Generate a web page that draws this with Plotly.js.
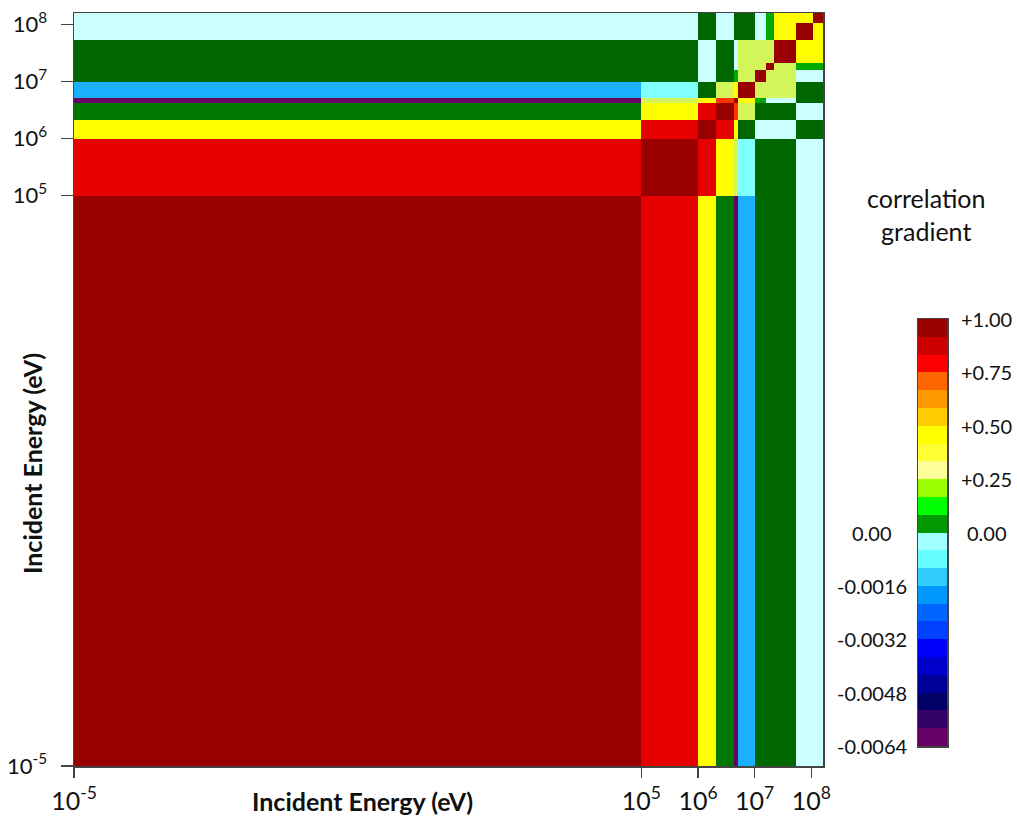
<!DOCTYPE html>
<html><head><meta charset="utf-8">
<script src="https://cdn.plot.ly/plotly-3.0.1.min.js"></script>
<style>html,body{margin:0;padding:0;background:#fff}</style>
</head><body><div id="chart" style="width:1017px;height:818px"></div>
<script>
// Energy group boundaries (eV)
const groupEdges = [1e-5, 1e5, 1e6, 2.1e6, 4.3e6, 5.1e6, 1e7, 1.6e7, 2.15e7, 5.3e7, 1.07e8, 1.6e8];

// Correlation levels
const DR = 0.97, R = 0.86, OR = 0.74, Y = 0.55, YG = 0.30, BG = 0.12, GM = 0.06, DG = 0.02;
const LC = -0.0002, C = -0.0008, B = -0.0018, P = -0.0062;

// Correlation matrix (row = y group, column = x group), group 0 = lowest energy
const corr = [
  [1,  R,  Y,  GM, P,  B,  DG, DG, DG, LC, LC],
  [R,  1,  R,  Y,  YG, C,  DG, DG, DG, LC, LC],
  [Y,  R,  1,  R,  Y,  DG, LC, LC, LC, DG, DG],
  [GM, Y,  R,  1,  OR, YG, DG, DG, DG, LC, LC],
  [P,  YG, Y,  OR, 1,  Y,  BG, LC, LC, DG, DG],
  [B,  C,  DG, YG, Y,  1,  YG, YG, YG, DG, DG],
  [DG, DG, LC, DG, BG, YG, 1,  YG, YG, LC, LC],
  [DG, DG, LC, DG, LC, YG, YG, 1,  YG, BG, BG],
  [DG, DG, LC, DG, LC, YG, YG, YG, 1,  Y,  Y ],
  [LC, LC, DG, LC, DG, DG, LC, BG, Y,  1,  Y ],
  [LC, LC, DG, LC, DG, DG, LC, BG, Y,  Y,  1 ]
];

// Axis ticks
const tickVals = [1e-5, 1e5, 1e6, 1e7, 1e8];
const tickText = ['10<sup>-5</sup>', '10<sup>5</sup>', '10<sup>6</sup>', '10<sup>7</sup>', '10<sup>8</sup>'];

// Matrix colour levels
const levelBounds = [-0.0064, -0.004, -0.0012, -0.0005, 0, 0.04, 0.09, 0.2, 0.42, 0.67, 0.8, 0.92, 1.0];
const levelColors = ['#660066', '#1ab0ff', '#80ffff', '#ccffff', '#006600', '#007700', '#00aa00', '#d4f55a', '#ffff00', '#ff3300', '#e60000', '#990000'];

// Colour-bar bands (bottom to top)
const cbColors = ['#660066', '#330066', '#000066', '#000099', '#0000cc', '#0000ff', '#0040ff', '#0066ff', '#0099ff', '#33ccff', '#66ffff', '#a0ffff',
                  '#009900', '#00ff00', '#99ff00', '#ffff99', '#ffff33', '#ffff00', '#ffcc00', '#ff9900', '#ff6600', '#ff0000', '#cc0000', '#990000'];
const cbLeftText = ['-0.0064', '-0.0048', '-0.0032', '-0.0016', '0.00'];
const cbRightText = ['0.00', '+0.25', '+0.50', '+0.75', '+1.00'];
const cbLabelStep = 3; // bands between labels

function stepScale(bounds, colors) {
  const lo = bounds[0], hi = bounds[bounds.length - 1];
  const s = [];
  for (let i = 0; i < colors.length; i++) {
    s.push([(bounds[i] - lo) / (hi - lo), colors[i]]);
    s.push([(bounds[i + 1] - lo) / (hi - lo), colors[i]]);
  }
  s[0][0] = 0; s[s.length - 1][0] = 1;
  return s;
}

const cbIdx = cbColors.map((c, i) => i);
const cbBounds = cbColors.map((c, i) => i - 0.5).concat([cbColors.length - 0.5]);

const font = 'Lato, "Open Sans", sans-serif';
const lineCol = '#444';

const traces = [
  {
    type: 'heatmap', x: groupEdges, y: groupEdges, z: corr,
    colorscale: stepScale(levelBounds, levelColors),
    zmin: levelBounds[0], zmax: levelBounds[levelBounds.length - 1],
    showscale: false, xaxis: 'x', yaxis: 'y', hoverinfo: 'skip'
  },
  {
    type: 'heatmap', x: [0, 1], y: cbIdx, z: cbIdx.map(i => [i]),
    colorscale: stepScale(cbBounds, cbColors),
    zmin: cbBounds[0], zmax: cbBounds[cbBounds.length - 1],
    showscale: false, xaxis: 'x2', yaxis: 'y2', hoverinfo: 'skip'
  }
];

const W = 1017, H = 818, mL = 74, mR = 40, mT = 13, mB = 52;
const pw = W - mL - mR, ph = H - mT - mB;
const logTop = Math.log10(groupEdges[groupEdges.length - 1]);
const logBot = Math.log10(groupEdges[0]);

const annotations = [];
cbLeftText.forEach((t, i) => annotations.push({
  xref: 'paper', yref: 'y2', x: (872 - mL) / pw, y: cbBounds[0] + i * cbLabelStep,
  text: t, showarrow: false, xanchor: 'center', yanchor: 'middle',
  font: {family: font, size: 20, color: '#111'}
}));
cbRightText.forEach((t, i) => annotations.push({
  xref: 'paper', yref: 'y2', x: (987 - mL) / pw, y: cbBounds[0] + (cbLeftText.length - 1 + i) * cbLabelStep,
  text: t, showarrow: false, xanchor: 'center', yanchor: 'middle',
  font: {family: font, size: 20, color: '#111'}
}));
annotations.push({
  xref: 'paper', yref: 'paper', x: (926 - mL) / pw, y: (H - mB - 214) / ph,
  text: 'correlation<br>gradient', showarrow: false, xanchor: 'center', yanchor: 'middle',
  font: {family: font, size: 25, color: '#111'}
});
annotations.push({
  xref: 'paper', yref: 'paper', x: (362 - mL) / pw, y: (H - mB - 801) / ph,
  text: '<b>Incident Energy (eV)</b>', showarrow: false, xanchor: 'center', yanchor: 'middle',
  font: {family: font, size: 25, color: '#111'}
});
annotations.push({
  xref: 'paper', yref: 'paper', x: (32 - mL) / pw, y: (H - mB - 464) / ph,
  text: '<b>Incident Energy (eV)</b>', showarrow: false, xanchor: 'center', yanchor: 'middle', textangle: -90,
  font: {family: font, size: 25, color: '#111'}
});

const axisCommon = {
  type: 'log', range: [logBot, logTop], tickvals: tickVals, ticktext: tickText,
  ticks: 'outside', tickcolor: lineCol, tickwidth: 1.5,
  showgrid: false, zeroline: false, showline: true, mirror: true, linecolor: lineCol, linewidth: 1.5
};

const layout = {
  width: W, height: H,
  margin: {l: mL, r: mR, t: mT, b: mB, pad: 0},
  paper_bgcolor: '#fff', plot_bgcolor: '#fff',
  showlegend: false,
  xaxis: Object.assign({}, axisCommon, {domain: [0, (823 - mL) / pw], anchor: 'y', ticklen: 10,
          tickfont: {family: font, size: 25, color: '#111'}, ticklabelstandoff: 2}),
  yaxis: Object.assign({}, axisCommon, {domain: [0, 1], anchor: 'x', ticklen: 12, ticklabelstandoff: 9,
          tickfont: {family: font, size: 22, color: '#111'}}),
  xaxis2: {domain: [(918 - mL) / pw, (947 - mL) / pw], range: [0, 1], anchor: 'y2',
           showticklabels: false, ticks: '', showgrid: false, zeroline: false,
           showline: true, mirror: true, linecolor: lineCol, linewidth: 1.5},
  yaxis2: {domain: [(H - mB - 746) / ph, (H - mB - 319) / ph], range: [cbBounds[0], cbBounds[cbBounds.length - 1]], anchor: 'x2',
           showticklabels: false, ticks: '', showgrid: false, zeroline: false,
           showline: true, mirror: true, linecolor: lineCol, linewidth: 1.5},
  annotations: annotations
};

Plotly.newPlot('chart', traces, layout, {displayModeBar: false, staticPlot: true});
</script>
</body></html>
